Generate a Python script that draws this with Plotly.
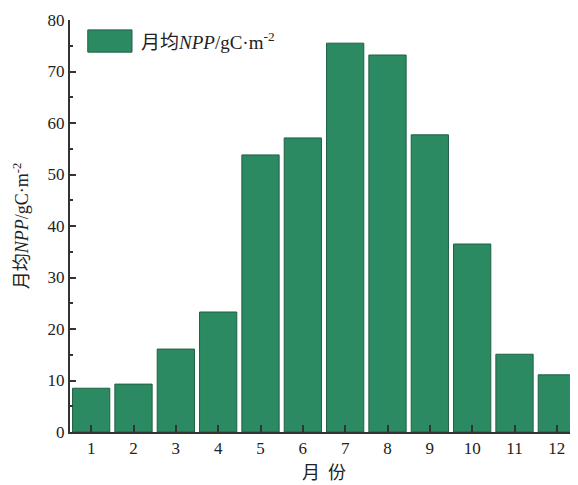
import plotly.graph_objects as go

months = [1, 2, 3, 4, 5, 6, 7, 8, 9, 10, 11, 12]
month_labels = ["1", "2", "3", "4", "5", "6", "7", "8", "9", "10", "11", "12"]
npp = [8.5, 9.3, 16.1, 23.3, 53.8, 57.1, 75.5, 73.2, 57.7, 36.5, 15.1, 11.1]
series_name = "月均<i>NPP</i>/gC·m<sup>-2</sup>"

FONT = "Liberation Serif, Times New Roman, Noto Sans CJK SC, serif"
GREEN = "#2b8a62"
EDGE = "#1f5f43"

fig = go.Figure()
fig.add_trace(go.Bar(
    x=months, y=npp, name=series_name, width=0.88,
    marker=dict(color=GREEN, line=dict(color=EDGE, width=1)),
    showlegend=False,
))

fig.update_layout(
    width=570, height=477,
    margin=dict(l=62, r=0, t=12, b=53),
    plot_bgcolor="white", paper_bgcolor="white",
    font=dict(family=FONT, size=17, color="#222"),
    xaxis=dict(
        range=[0.5, 12.5], tickmode="array", tickvals=months, ticktext=month_labels,
        showline=True, linecolor="#333", linewidth=2,
        ticks="inside", ticklen=7, tickwidth=2, tickcolor="#333",
        showgrid=False, zeroline=False, automargin=False,
        title=dict(text="月  份", font=dict(size=18, family="Noto Sans CJK SC"), standoff=6),
        tickfont=dict(size=17),
    ),
    yaxis=dict(
        range=[0, 80], dtick=10,
        showline=True, linecolor="#333", linewidth=2,
        ticks="inside", ticklen=6, tickwidth=2, tickcolor="#333",
        minor=dict(dtick=5, ticks="inside", ticklen=3, tickwidth=1.5, tickcolor="#333"),
        showgrid=False, zeroline=False, automargin=False,
        title=dict(text="月均<i>NPP</i>/gC·m<sup>-2</sup>", font=dict(size=18), standoff=14),
        tickfont=dict(size=17),
    ),
)

# legend swatch and label
fig.add_shape(type="rect", xref="paper", yref="paper",
              x0=0.035, x1=0.122, y0=0.922, y1=0.976,
              fillcolor=GREEN, line=dict(color=EDGE, width=1))
fig.add_annotation(xref="paper", yref="paper", x=0.136, y=0.949,
                   xanchor="left", yanchor="middle", showarrow=False,
                   text=series_name, font=dict(size=19, family=FONT))

fig.write_html("out.html")
